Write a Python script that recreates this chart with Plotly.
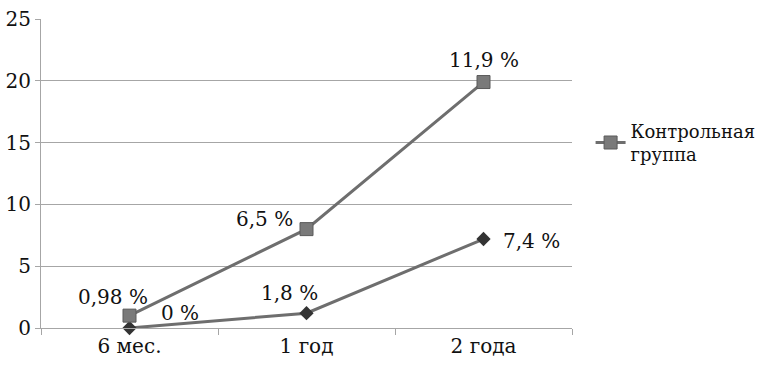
import plotly.graph_objects as go

categories = ["6 мес.", "1 год", "2 года"]
control_values = [1.0, 8.0, 19.9]
control_labels = ["0,98 %", "6,5 %", "11,9 %"]
main_values = [0.0, 1.2, 7.2]
main_labels = ["0 %", "1,8 %", "7,4 %"]
y_ticks = [0, 5, 10, 15, 20, 25]

FONT = "DejaVu Serif"
FS = 20

fig = go.Figure()
fig.add_trace(go.Scatter(
    x=categories, y=main_values, mode="lines+markers",
    name="", showlegend=False,
    line=dict(color="#6e6e6e", width=3),
    marker=dict(symbol="diamond", size=11, color="#333333"),
    cliponaxis=False,
))
fig.add_trace(go.Scatter(
    x=categories, y=control_values, mode="lines+markers",
    name="Контрольная<br>группа",
    line=dict(color="#6e6e6e", width=3),
    marker=dict(symbol="square", size=13, color="#7a7a7a", line=dict(color="#5a5a5a", width=1)),
    cliponaxis=False,
))

main_shift = [(50, 15), (-17, 20), (48, -2)]
ctrl_shift = [(-17, 19), (-42, 10), (0, 22)]
for cat, v, lab, (dx, dy) in zip(categories, main_values, main_labels, main_shift):
    fig.add_annotation(x=cat, y=v, text=lab, showarrow=False, xshift=dx, yshift=dy,
                       font=dict(family=FONT, size=FS, color="#111111"))
for cat, v, lab, (dx, dy) in zip(categories, control_values, control_labels, ctrl_shift):
    fig.add_annotation(x=cat, y=v, text=lab, showarrow=False, xshift=dx, yshift=dy,
                       font=dict(family=FONT, size=FS, color="#111111"))

fig.update_layout(
    width=777, height=369,
    margin=dict(l=41, r=205, t=19, b=41, autoexpand=False),
    paper_bgcolor="white", plot_bgcolor="white",
    font=dict(family=FONT, size=FS, color="#111111"),
    legend=dict(x=1.035, xanchor="left", y=0.6, yanchor="middle",
                font=dict(family=FONT, size=18, color="#111111"),
                bgcolor="rgba(0,0,0,0)"),
    xaxis=dict(type="category", range=[-0.5, 2.5], showgrid=False, automargin=False,
               showline=True, linecolor="#a6a6a6", linewidth=1,
               ticks="outside", tickson="boundaries", ticklen=6, tickcolor="#a6a6a6",
               tickfont=dict(family=FONT, size=FS, color="#111111")),
    yaxis=dict(range=[0, 25], tickvals=y_ticks, showgrid=True, gridcolor="#a6a6a6",
               gridwidth=1, zeroline=False, showline=True, linecolor="#a6a6a6",
               linewidth=1, ticks="outside", ticklen=5, tickcolor="#a6a6a6", automargin=False,
               tickfont=dict(family=FONT, size=FS, color="#111111")),
)

fig.write_html("out.html", post_script="document.body.style.margin='0';",
               config={"displayModeBar": False})
